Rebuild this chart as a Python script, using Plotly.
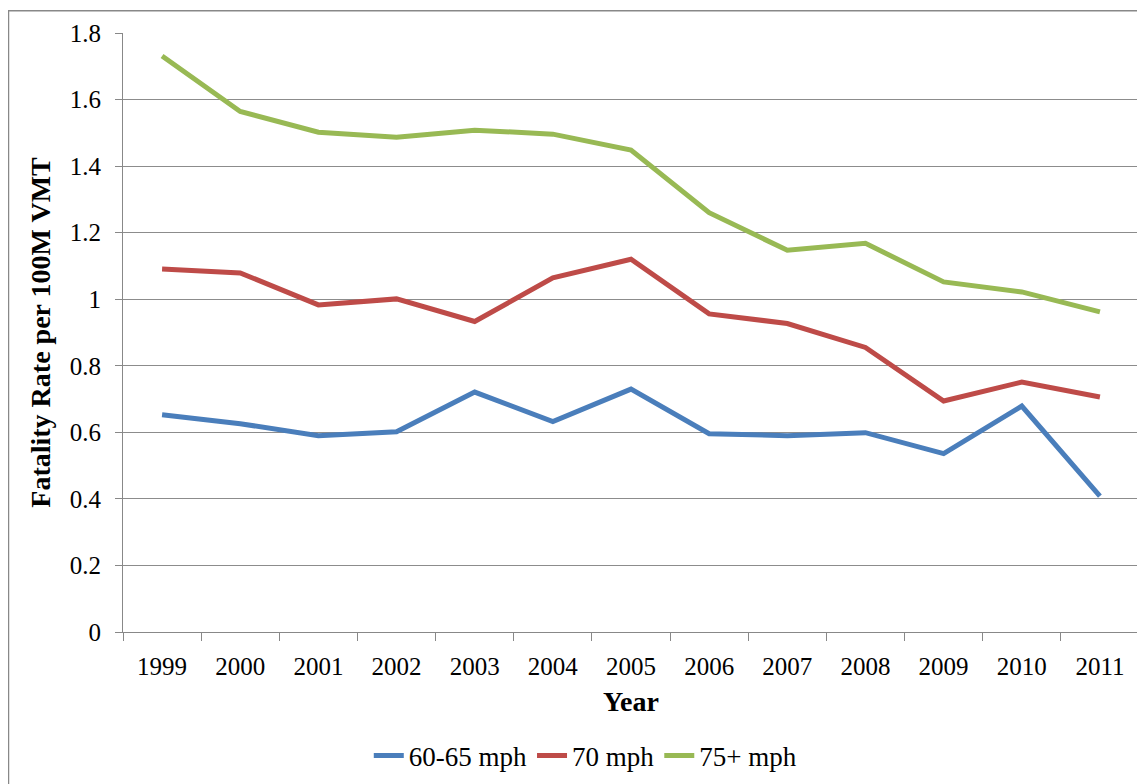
# fatality rate by speed limit, 1999-2011
import plotly.graph_objects as go

years = ["1999", "2000", "2001", "2002", "2003", "2004", "2005",
         "2006", "2007", "2008", "2009", "2010", "2011"]
rate_60_65 = [0.653, 0.626, 0.590, 0.602, 0.721, 0.632, 0.730,
              0.596, 0.590, 0.599, 0.536, 0.679, 0.408]
rate_70 = [1.091, 1.079, 0.983, 1.001, 0.933, 1.064, 1.120,
           0.956, 0.927, 0.855, 0.694, 0.751, 0.706]
rate_75 = [1.731, 1.564, 1.502, 1.487, 1.508, 1.496, 1.448,
           1.260, 1.147, 1.168, 1.052, 1.022, 0.962]

series = [("60-65 mph", rate_60_65, "#4a7ebb"),
          ("70 mph", rate_70, "#be4b48"),
          ("75+ mph", rate_75, "#98b954")]

font = "Liberation Serif, Times New Roman, serif"

fig = go.Figure()
for name, vals, col in series:
    fig.add_trace(go.Scatter(x=years, y=vals, name=name, mode="lines",
                             line=dict(color=col, width=5)))

# page has 8px body margin, so margins are shifted by 8
fig.update_layout(
    width=1145, height=784,
    paper_bgcolor="white", plot_bgcolor="white",
    margin=dict(l=115, r=14, t=23, b=157),
    font=dict(family=font, size=25, color="black"),
    showlegend=True,
    legend=dict(orientation="h", x=0.455, xanchor="center", y=-0.207, yanchor="middle",
                font=dict(size=27), tracegroupgap=0),
    xaxis=dict(type="category", tickson="boundaries", range=[-0.5, 12.5],
               ticks="outside", ticklen=8, ticklabelstandoff=12,
               tickcolor="#888", showgrid=False, showline=True, linecolor="#888",
               linewidth=1, title=dict(text="<b>Year</b>", standoff=12, font=dict(size=28)),
               tickfont=dict(size=25)),
    yaxis=dict(range=[0, 1.8], dtick=0.2, ticks="outside", ticklen=7, tickcolor="#888",
               ticklabelstandoff=9,
               showgrid=True, gridcolor="#8c8c8c", gridwidth=1,
               showline=True, linecolor="#888", zeroline=False,
               title=dict(text="<b>Fatality Rate per 100M VMT</b>", standoff=10,
                          font=dict(size=28)),
               tickfont=dict(size=25)),
)

# outer chart border (cropped at right/bottom in the original)
fig.add_shape(type="rect", xref="paper", yref="paper",
              x0=-0.1127, x1=1.2, y0=-0.5, y1=1.0373,
              line=dict(color="#888", width=1.5), layer="below")

fig.write_html("out.html")
